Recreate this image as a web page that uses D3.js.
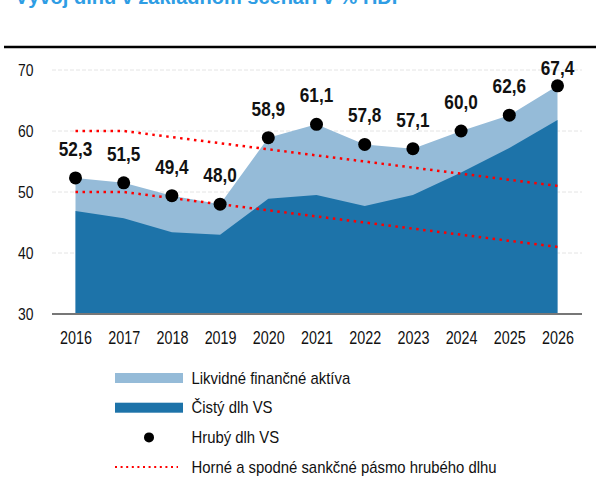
<!DOCTYPE html>
<html>
<head>
<meta charset="utf-8">
<script src="https://cdn.jsdelivr.net/npm/d3@7"></script>
<style>
  body { margin: 0; background: #fff; }
  svg { display: block; font-family: "Liberation Sans", Arial, sans-serif; }
</style>
</head>
<body>
<div id="chart"></div>
<script>
// Vývoj dlhu v základnom scenári (% HDP)
const years = [2016, 2017, 2018, 2019, 2020, 2021, 2022, 2023, 2024, 2025, 2026];
const grossDebt = [52.3, 51.5, 49.4, 48.0, 58.9, 61.1, 57.8, 57.1, 60.0, 62.6, 67.4];
const netDebt = [46.9, 45.7, 43.4, 43.0, 48.9, 49.5, 47.7, 49.5, 53.2, 57.2, 61.8];
const upperBand = [60, 60, 59, 58, 57, 56, 55, 54, 53, 52, 51];
const lowerBand = [50, 50, 49, 48, 47, 46, 45, 44, 43, 42, 41];
const yTicks = [30, 40, 50, 60, 70];

const legendItems = [
  { type: 'area', color: '#95bbd8', label: 'Likvidné finančné aktíva' },
  { type: 'area', color: '#1d73a9', label: 'Čistý dlh VS' },
  { type: 'dot', color: '#000', label: 'Hrubý dlh VS' },
  { type: 'dots', color: '#ff0000', label: 'Horné a spodné sankčné pásmo hrubého dlhu' }
];

const width = 596, height = 485;
// the original uses a narrow font, so texts are squeezed horizontally
const narrow = 0.82;

const svg = d3.select('#chart').append('svg')
  .attr('width', width)
  .attr('height', height);

// title, cut off by the top edge
svg.append('text')
  .attr('x', 15)
  .attr('y', 4)
  .attr('fill', '#2e9de4')
  .style('font-weight', 'bold')
  .style('font-size', '20px')
  .text('Vývoj dlhu v základnom scenári v % HDP');

svg.append('line')
  .attr('x1', 4).attr('x2', 596)
  .attr('y1', 47).attr('y2', 47)
  .attr('stroke', '#000').attr('stroke-width', 2.5);

const x = d3.scalePoint().domain(years).range([75.5, 557.5]);
const y = d3.scaleLinear().domain([30, 70]).range([314, 70]);

// gridlines
svg.append('g')
  .selectAll('line')
  .data(yTicks.filter(t => t > 30))
  .join('line')
  .attr('x1', 52).attr('x2', 582)
  .attr('y1', d => y(d)).attr('y2', d => y(d))
  .attr('stroke', '#e4e4e4')
  .attr('stroke-width', 1)
  .attr('stroke-dasharray', '4,2');

const area = d3.area().x((d, i) => x(years[i])).y0(y(30)).y1(d => y(d));
svg.append('path').datum(grossDebt).attr('d', area).attr('fill', '#95bbd8');
svg.append('path').datum(netDebt).attr('d', area).attr('fill', '#1d73a9');

const bandLine = d3.line().x((d, i) => x(years[i])).y(d => y(d));
[upperBand, lowerBand].forEach(band => {
  svg.append('path').datum(band)
    .attr('d', bandLine)
    .attr('fill', 'none')
    .attr('stroke', '#ff0000')
    .attr('stroke-width', 2.5)
    .attr('stroke-dasharray', '2.5,4.5');
});

// x axis baseline
svg.append('line')
  .attr('x1', 52).attr('x2', 582)
  .attr('y1', y(30)).attr('y2', y(30))
  .attr('stroke', '#777').attr('stroke-width', 2);

// axes labels
const xAxis = svg.append('g')
  .attr('transform', `translate(0,${y(30)})`)
  .call(d3.axisBottom(x).tickSize(0).tickPadding(18).tickFormat(d3.format('d')));
xAxis.select('.domain').remove();
xAxis.selectAll('text')
  .style('font-size', '17.5px')
  .attr('fill', '#111')
  .attr('transform', `scale(${narrow},1)`);

const yAxis = svg.append('g')
  .attr('transform', 'translate(33.5,0)')
  .call(d3.axisLeft(y).tickValues(yTicks).tickSize(0).tickPadding(0));
yAxis.select('.domain').remove();
yAxis.selectAll('text')
  .style('font-size', '17px')
  .attr('fill', '#111')
  .attr('transform', `scale(${narrow},1)`);

// gross debt dots and labels
const fmt = v => d3.format('.1f')(v).replace('.', ',');
svg.append('g')
  .selectAll('circle')
  .data(grossDebt)
  .join('circle')
  .attr('cx', (d, i) => x(years[i]))
  .attr('cy', d => y(d))
  .attr('r', 6.5)
  .attr('fill', '#000');

svg.append('g')
  .selectAll('text')
  .data(grossDebt)
  .join('text')
  .attr('transform', (d, i) => `translate(${x(years[i])},${Math.max(y(d) - 22, 75)}) scale(0.86,1)`)
  .attr('text-anchor', 'middle')
  .style('font-size', '20px')
  .style('font-weight', 'bold')
  .attr('fill', '#111')
  .text(fmt);

// legend
const legend = svg.append('g');
const row = legend.selectAll('g')
  .data(legendItems)
  .join('g')
  .attr('transform', (d, i) => `translate(115,${378 + i * 29.7})`);

row.filter(d => d.type === 'area').append('rect')
  .attr('x', 0).attr('y', -5).attr('width', 68).attr('height', 10)
  .attr('fill', d => d.color);
row.filter(d => d.type === 'dot').append('circle')
  .attr('cx', 34).attr('cy', 0).attr('r', 5)
  .attr('fill', d => d.color);
row.filter(d => d.type === 'dots').append('line')
  .attr('x1', 0).attr('x2', 63).attr('y1', 0).attr('y2', 0)
  .attr('stroke', d => d.color)
  .attr('stroke-width', 2)
  .attr('stroke-dasharray', '2,3.6');
row.append('text')
  .attr('transform', 'translate(76.5,0) scale(0.93,1)')
  .attr('dy', '0.36em')
  .style('font-size', '16px')
  .attr('fill', '#111')
  .text(d => d.label);
</script>
</body>
</html>
